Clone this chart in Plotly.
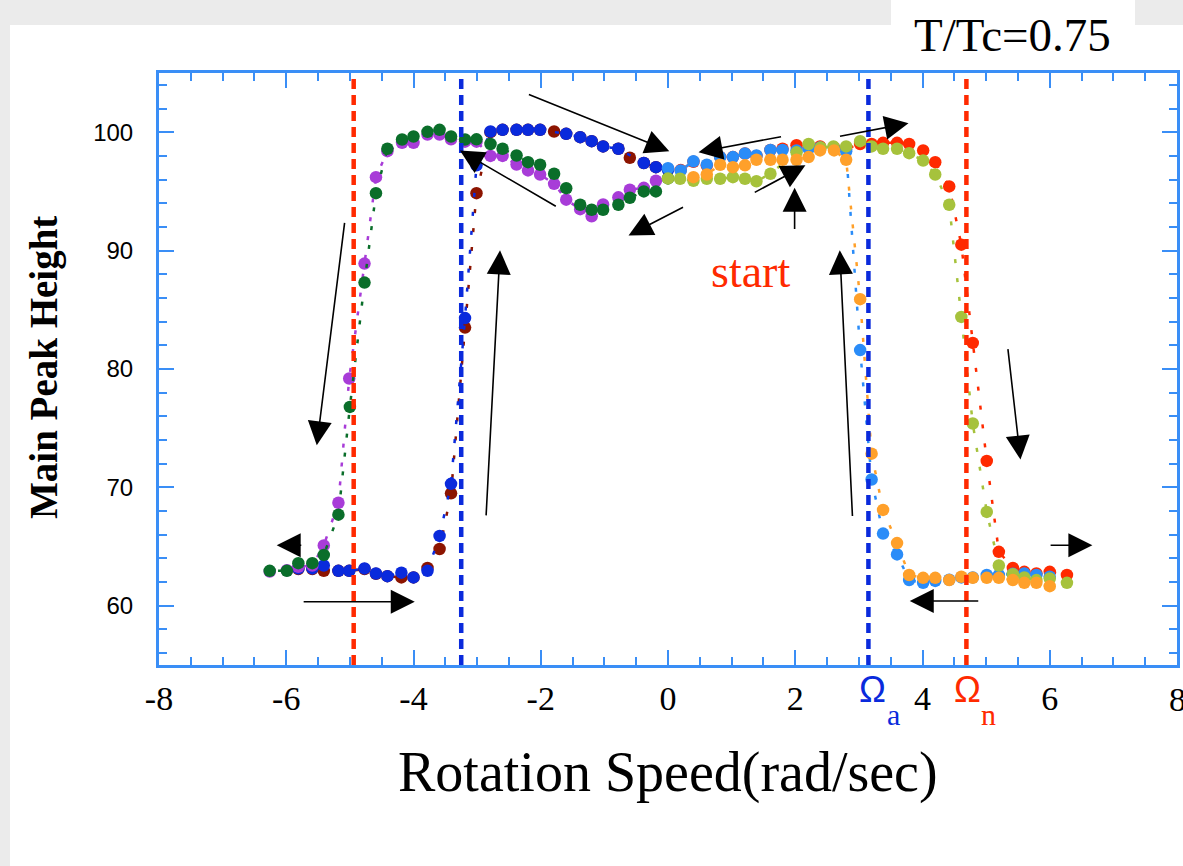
import plotly.graph_objects as go

# ---------------- data ----------------
red_x = [0.0, 0.2, 0.4, 0.61, 0.82, 1.02, 1.21, 1.39, 1.61, 1.8, 2.02, 2.21, 2.39, 2.61, 2.8,
         3.02, 3.2, 3.38, 3.6, 3.79, 4.01, 4.2, 4.42, 4.61, 4.79, 5.01, 5.2, 5.42, 5.6, 5.79, 6.0, 6.27]
red_y = [96.9, 96.8, 97.5, 97.2, 97.9, 97.9, 98.2, 98.0, 98.5, 98.6, 98.9, 98.7, 98.8, 98.7, 98.6,
         99.0, 99.0, 99.1, 99.1, 99.0, 98.46, 97.47, 95.42, 90.5, 82.2, 72.24, 64.56, 63.2, 62.87, 62.73, 62.87, 62.6]

lblue_x = [0.0, 0.2, 0.4, 0.61, 0.82, 1.02, 1.21, 1.39, 1.61, 1.8, 2.02, 2.21, 2.39, 2.61, 2.8,
           3.02, 3.2, 3.38, 3.6, 3.79, 4.01, 4.2, 4.42, 4.61, 4.79, 5.01, 5.2, 5.42, 5.6, 5.79, 6.0]
lblue_y = [96.96, 96.77, 97.55, 97.25, 97.9, 97.9, 98.2, 98.03, 98.5, 98.5, 98.46, 98.6, 98.7, 98.6, 98.4,
           81.6, 70.67, 66.1, 64.34, 62.17, 61.94, 62.1, 62.2, 62.4, 62.4, 62.6, 62.6, 62.7, 62.73, 62.6, 62.45]

orange_x = [0.4, 0.61, 0.82, 1.02, 1.21, 1.39, 1.61, 1.8, 2.02, 2.21, 2.39, 2.61, 2.8,
            3.02, 3.2, 3.38, 3.6, 3.79, 4.01, 4.2, 4.42, 4.61, 4.79, 5.01, 5.2, 5.42, 5.6, 5.79, 6.0]
orange_y = [96.2, 96.43, 97.25, 97.05, 97.2, 97.67, 97.67, 97.67, 97.67, 97.9, 98.46, 98.46, 97.67,
            85.9, 72.85, 68.1, 65.3, 62.6, 62.36, 62.36, 62.17, 62.45, 62.36, 62.36, 62.36, 62.17, 61.94, 61.94, 61.66]

ygreen_x = [0.0, 0.19, 0.4, 0.61, 0.82, 1.02, 1.21, 1.39, 1.61, 2.02, 2.21, 2.4, 2.6, 2.8,
            3.02, 3.2, 3.38, 3.6, 3.79, 4.01, 4.2, 4.42, 4.61, 4.79, 5.01, 5.2, 5.42, 5.6, 5.79, 6.0, 6.27]
ygreen_y = [96.1, 96.07, 95.9, 96.07, 96.07, 96.2, 96.07, 95.86, 96.49, 98.3, 99.0, 98.7, 98.8, 98.8,
            99.24, 98.8, 98.6, 98.6, 98.23, 97.6, 96.43, 93.87, 84.4, 75.4, 67.93, 63.4, 62.67, 62.4, 62.17, 62.3, 61.94]

maroon_x = [-5.81, -5.59, -5.41, -5.18, -5.01, -4.77, -4.59, -4.41, -4.19, -4.0, -3.78, -3.59, -3.41, -3.19,
            -3.01, -2.79, -2.6, -2.38, -2.2, -2.01, -1.79, -1.6, -1.38, -1.2, -1.02, -0.78, -0.6, -0.38, -0.19]
maroon_y = [63.1, 63.1, 62.95, 62.95, 62.95, 63.1, 62.7, 62.5, 62.4, 62.4, 63.2, 64.8, 69.5, 83.5,
            94.85, 100.0, 100.2, 100.2, 100.2, 100.2, 100.06, 99.86, 99.58, 99.24, 98.8, 98.6, 97.84, 97.4, 97.05]

blue_x = [-5.81, -5.59, -5.41, -5.18, -5.01, -4.77, -4.59, -4.41, -4.19, -4.0, -3.78, -3.59, -3.41, -3.19,
          -3.01, -2.79, -2.6, -2.38, -2.2, -2.01, -1.6, -1.38, -1.2, -1.02, -0.78, -0.38, -0.19, 0.0]
blue_y = [63.16, 63.16, 63.4, 62.95, 62.95, 63.16, 62.73, 62.5, 62.8, 62.4, 62.95, 65.9, 70.3, 84.3,
          97.2, 100.06, 100.2, 100.2, 100.2, 100.2, 99.86, 99.58, 99.24, 98.8, 98.6, 97.4, 97.05, 96.8]

purple_x = [-0.19, -0.38, -0.6, -0.78, -1.02, -1.2, -1.38, -1.6, -1.79, -2.01, -2.2, -2.38, -2.6, -2.79,
            -3.01, -3.19, -3.41, -3.59, -3.78, -4.0, -4.18, -4.41, -4.59, -4.77, -5.01, -5.18, -5.41,
            -5.59, -5.81, -5.99, -6.26]
purple_y = [95.9, 95.3, 95.14, 94.5, 93.9, 92.9, 93.5, 94.3, 95.64, 96.43, 96.77, 97.27, 98.0, 98.0,
            99.2, 99.2, 99.4, 99.8, 99.8, 99.1, 99.1, 98.4, 96.2, 88.9, 79.2, 68.7, 65.1,
            63.4, 63.3, 63.0, 62.9]

green_x = [0.0, -0.19, -0.38, -0.6, -0.78, -1.02, -1.2, -1.38, -1.6, -1.79, -2.01, -2.2, -2.38, -2.6, -2.79,
           -3.01, -3.19, -3.41, -3.59, -3.78, -4.0, -4.18, -4.41, -4.59, -4.77, -5.0, -5.18, -5.41,
           -5.59, -5.81, -5.99, -6.26]
green_y = [96.1, 95.0, 95.0, 94.46, 93.87, 93.45, 93.45, 93.87, 95.27, 96.49, 97.25, 97.47, 98.03, 98.6, 99.0,
           99.4, 99.38, 99.64, 100.2, 100.03, 99.64, 99.38, 98.6, 94.85, 87.3, 76.8, 67.7, 64.3,
           63.6, 63.6, 62.95, 62.95]

# critical speeds (vertical dashed lines)
omega_n_left, omega_a_left = -4.94, -3.25
omega_a_right, omega_n_right = 3.15, 4.69

# arrows: tail (x0, y0) -> head (x1, y1)
arrow_x0 = [-5.08, -5.74, -5.75, -2.86, -1.74, -2.21, 0.26, 1.80, 1.34, 1.99, 2.90, 2.68, 5.34, 5.99, 4.90]
arrow_y0 = [92.46, 65.12, 60.34, 67.51, 93.67, 103.24, 93.73, 99.64, 94.85, 91.7, 67.46, 99.64, 81.8, 65.12, 60.4]
arrow_x1 = [-5.52, -6.15, -3.98, -2.64, -3.27, 0.02, -0.62, 0.48, 2.16, 1.99, 2.70, 3.78, 5.54, 6.67, 3.80]
arrow_y1 = [73.56, 65.12, 60.34, 90.02, 98.46, 98.4, 91.28, 98.31, 97.2, 95.3, 90.02, 100.76, 72.35, 65.12, 60.4]

x_ticks = [-8, -6, -4, -2, 0, 2, 4, 6, 8]
y_ticks = [60, 70, 80, 90, 100]

# ---------------- figure ----------------
series = [
    ("red", red_x, red_y, "#ff2a00"),
    ("maroon", maroon_x, maroon_y, "#8c1400"),
    ("blue", blue_x, blue_y, "#0a2adc"),
    ("purple", purple_x, purple_y, "#a83cd8"),
    ("green", green_x, green_y, "#0a6e2a"),
    ("lightblue", lblue_x, lblue_y, "#2a8cf8"),
    ("yellowgreen", ygreen_x, ygreen_y, "#a6c23c"),
    ("orange", orange_x, orange_y, "#ffa02a"),
]

fig = go.Figure()
for name, xs, ys, col in series:
    fig.add_trace(go.Scatter(
        x=xs, y=ys, name=name, mode="lines+markers",
        line=dict(color=col, width=2.5, dash="4px,15px"),
        marker=dict(color=col, size=12.5, line=dict(width=0)),
        showlegend=False,
    ))

W, H = 1183, 866
L, R, T, B = 159, 6, 73, 201
pw, ph = W - L - R, H - T - B


def px_to_paper_x(px):
    return (px - L) / pw


def px_to_paper_y(py):
    return (H - B - py) / ph


def px_to_x(px):
    return (px - 668) / 63.625


frame = "#3a8ef6"
shapes = [
    # white page area over the grey textured backdrop
    dict(type="rect", xref="paper", yref="paper", layer="below",
         x0=px_to_paper_x(10), x1=px_to_paper_x(1190), y0=px_to_paper_y(870), y1=px_to_paper_y(25),
         fillcolor="white", line=dict(width=0)),
    dict(type="rect", xref="paper", yref="paper", layer="below",
         x0=px_to_paper_x(891), x1=px_to_paper_x(1135), y0=px_to_paper_y(26), y1=px_to_paper_y(-2),
         fillcolor="white", line=dict(width=0)),
]
for xv, col in [(omega_n_left, "#ff2a00"), (omega_a_left, "#0a2adc"),
                (omega_a_right, "#0a2adc"), (omega_n_right, "#ff2a00")]:
    shapes.append(dict(type="line", xref="x", yref="paper", x0=xv, x1=xv, y0=0, y1=1,
                       line=dict(color=col, width=4.5, dash="10px,6px"), layer="above"))

annotations = []
for x0, y0, x1, y1 in zip(arrow_x0, arrow_y0, arrow_x1, arrow_y1):
    annotations.append(dict(x=x1, y=y1, ax=x0, ay=y0, xref="x", yref="y", axref="x", ayref="y",
                            text="", showarrow=True, arrowhead=2, arrowsize=3.0, arrowwidth=1.6,
                            arrowcolor="black", standoff=0, startstandoff=0))

serif = "Liberation Serif"
C = dict(xanchor="center", yanchor="middle", showarrow=False)
annotations += [
    dict(text="start", x=1.29, y=88.2, xref="x", yref="y",
         font=dict(family=serif, size=46, color="#ff2a00"), **C),
    dict(text="T/Tc=0.75", x=px_to_paper_x(1012), y=px_to_paper_y(35), xref="paper", yref="paper",
         font=dict(family=serif, size=47, color="black"), **C),
    dict(text="Rotation Speed(rad/sec)", x=0.5, y=px_to_paper_y(772), xref="paper", yref="paper",
         font=dict(family=serif, size=56, color="black"), **C),
    dict(text="<b>Main Peak Height</b>", x=px_to_paper_x(44), y=px_to_paper_y(368), xref="paper",
         yref="paper", textangle=-90, font=dict(family=serif, size=39, color="black"), **C),
    dict(text="Ω", x=px_to_x(872), y=px_to_paper_y(689), xref="x", yref="paper",
         font=dict(family="Liberation Sans", size=36, color="#0a2adc"), **C),
    dict(text="a", x=px_to_x(893), y=px_to_paper_y(714), xref="x", yref="paper",
         font=dict(family=serif, size=30, color="#0a2adc"), **C),
    dict(text="Ω", x=px_to_x(967), y=px_to_paper_y(689), xref="x", yref="paper",
         font=dict(family="Liberation Sans", size=36, color="#ff2a00"), **C),
    dict(text="n", x=px_to_x(988), y=px_to_paper_y(714), xref="x", yref="paper",
         font=dict(family=serif, size=30, color="#ff2a00"), **C),
    # last x tick label sits on the page edge (plotly drops it), so draw it explicitly
    dict(text=str(x_ticks[-1]), x=x_ticks[-1], y=px_to_paper_y(699), xref="x", yref="paper",
         font=dict(family=serif, size=34, color="black"), **C),
]

fig.update_layout(
    width=W, height=H, autosize=False,
    margin=dict(l=L, r=R, t=T, b=B, pad=0),
    paper_bgcolor="#ebebeb", plot_bgcolor="white",
    shapes=shapes, annotations=annotations,
    xaxis=dict(range=[-8, 8], tickvals=x_ticks, ticktext=[str(v) for v in x_ticks],
               ticks="inside", ticklen=15, tickwidth=2, tickcolor=frame,
               minor=dict(dtick=0.5, ticks="inside", ticklen=8, tickwidth=2, tickcolor=frame),
               showline=True, linecolor=frame, linewidth=3, mirror="allticks",
               showgrid=False, zeroline=False, ticklabelstandoff=1, automargin=False,
               tickfont=dict(family=serif, size=34, color="black")),
    yaxis=dict(range=[55, 105], tickvals=y_ticks, ticktext=[str(v) for v in y_ticks],
               ticks="inside", ticklen=15, tickwidth=2, tickcolor=frame,
               minor=dict(dtick=2, ticks="inside", ticklen=8, tickwidth=2, tickcolor=frame),
               showline=True, linecolor=frame, linewidth=3, mirror="allticks",
               showgrid=False, zeroline=False, ticklabelstandoff=18, automargin=False,
               tickfont=dict(family="Liberation Sans", size=24, color="black")),
)

fig.write_html("out.html", config={"displayModeBar": False, "responsive": False},
               post_script="document.body.style.margin='0';document.body.style.overflow='hidden';")
